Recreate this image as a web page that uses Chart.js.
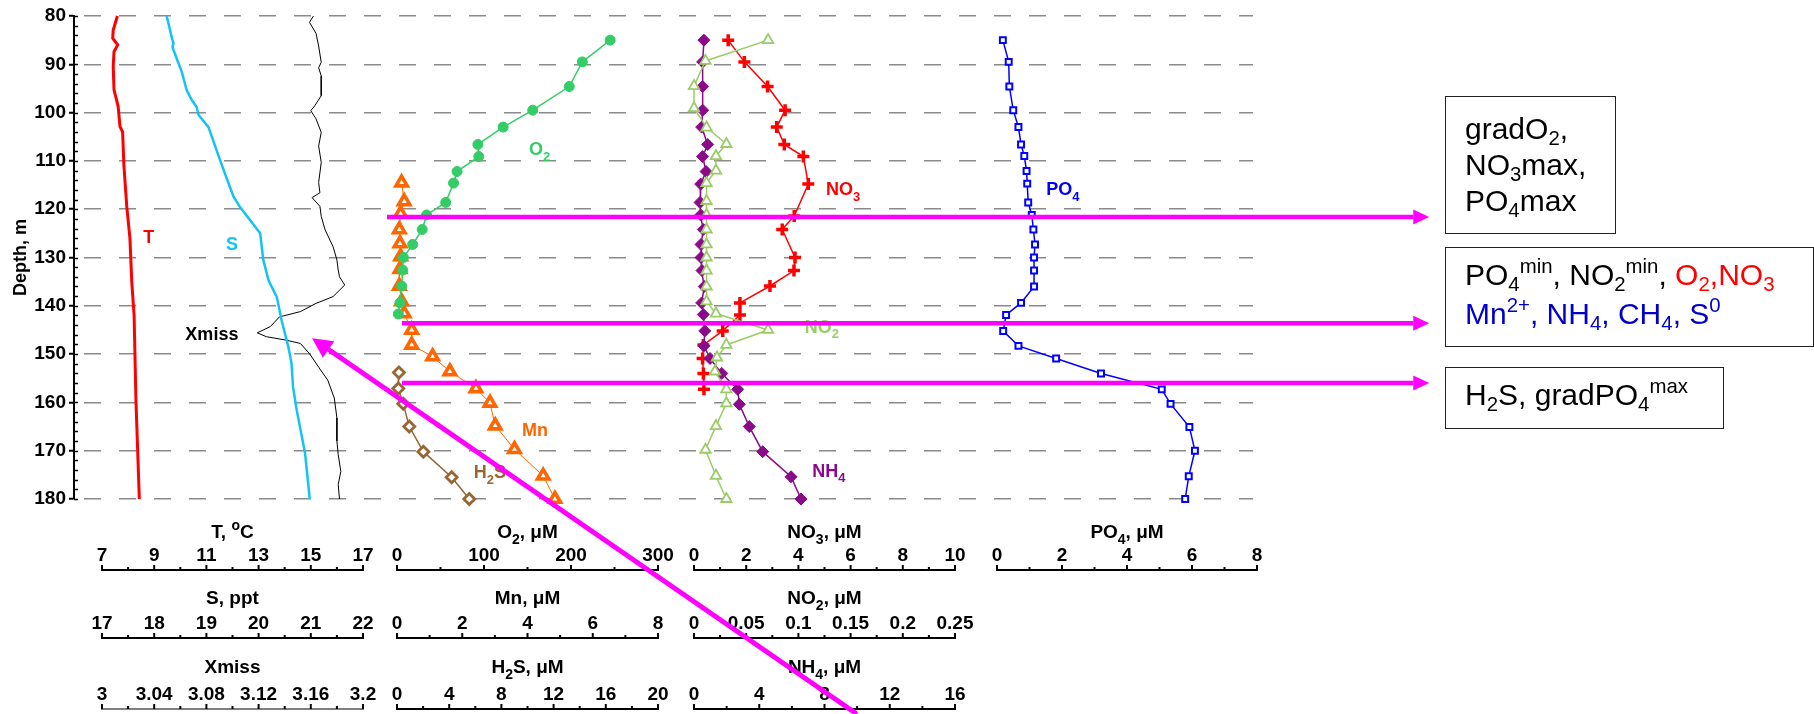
<!DOCTYPE html>
<html>
<head>
<meta charset="utf-8">
<script src="https://cdn.jsdelivr.net/npm/chart.js@4.4.1/dist/chart.umd.min.js"></script>
<style>
  body { margin: 0; background: #fff; }
  #wrap { position: relative; width: 1814px; height: 714px; overflow: hidden; font-family: "Liberation Sans", Arial, sans-serif; }
  #profile { position: absolute; left: 0; top: 0; }
  .note { position: absolute; box-sizing: border-box; border: 1.5px solid #222; font-size: 30px; line-height: 36px; color: #000; padding-left: 19px; white-space: nowrap; }
  .note sub, .note sup { font-size: 0.68em; line-height: 0; }
  .note sub { vertical-align: -0.28em; }
  .note sup { vertical-align: 0.6em; }
</style>
</head>
<body>
<div id="wrap">
  <canvas id="profile" width="1814" height="714"></canvas>
  <div class="note" style="left:1445px;top:96px;width:171px;height:138px;padding-top:14px">gradO<sub>2</sub>,<br>NO<sub>3</sub>max,<br>PO<sub>4</sub>max</div>
  <div class="note" style="left:1445px;top:247px;width:369px;height:100px;padding-top:7px;line-height:39px">PO<sub>4</sub><sup>min</sup>, NO<sub>2</sub><sup>min</sup>, <span style="color:#ff0000">O<sub>2</sub>,NO<sub>3</sub></span><br><span style="color:#0000cc">Mn<sup>2+</sup>, NH<sub>4</sub>, CH<sub>4</sub>, S<sup>0</sup></span></div>
  <div class="note" style="left:1445px;top:367px;width:279px;height:62px;padding-top:9px">H<sub>2</sub>S, gradPO<sub>4</sub><sup>max</sup></div>
</div>
<script>
const FONT = '"Liberation Sans", Arial, sans-serif';

// depth, m
const depthTicks = [80, 90, 100, 110, 120, 130, 140, 150, 160, 170, 180];

// CTD profiles
const tDepth = [80, 82.9, 84.6, 86, 87.4, 90.5, 95.3, 97.4, 98.8, 102.9, 104, 111, 119.5, 126, 135, 142, 159.5, 180];
const tVal = [7.59, 7.43, 7.41, 7.6, 7.46, 7.43, 7.46, 7.56, 7.62, 7.69, 7.79, 7.84, 7.95, 8.07, 8.14, 8.23, 8.3, 8.43];

const sDepth = [80, 84.6, 85.7, 86.4, 88.8, 91.6, 95.3, 97.4, 98.8, 100.5, 103, 109.8, 115.4, 117.4, 119.5, 125, 130.5, 134.7, 138.2, 143, 148.5, 151.9, 156.8, 161.6, 170.5, 180];
const sVal = [18.24, 18.34, 18.37, 18.35, 18.43, 18.53, 18.62, 18.72, 18.81, 18.85, 19.04, 19.26, 19.45, 19.52, 19.64, 20.03, 20.09, 20.19, 20.35, 20.44, 20.57, 20.63, 20.66, 20.73, 20.89, 20.98];

const xmDepth = [80, 81.3, 83.6, 86.2, 89.6, 90.7, 92.4, 96.5, 98.6, 99.6, 101.3, 104.1, 106.9, 110.3, 114.5, 116.6, 117.6, 119.4, 121.5, 124.3, 127.7, 130.5, 132.6, 134, 135.7, 138.1, 139.5, 141.2, 142.3, 144.3, 145.6, 146.4, 147.1, 147.8, 149.9, 152.7, 155.4, 159.1, 163.2, 168, 170.8, 174.3, 177, 180];
const xmVal = [3.162, 3.159, 3.164, 3.166, 3.168, 3.166, 3.168, 3.168, 3.163, 3.160, 3.164, 3.168, 3.166, 3.168, 3.166, 3.167, 3.161, 3.167, 3.168, 3.171, 3.177, 3.180, 3.181, 3.182, 3.186, 3.177, 3.164, 3.152, 3.136, 3.129, 3.119, 3.126, 3.141, 3.152, 3.159, 3.166, 3.173, 3.178, 3.180, 3.180, 3.181, 3.183, 3.181, 3.182];

// bottle samples
const o2Depth = [85, 89.5, 94.6, 99.5, 103, 106.6, 109.1, 112.2, 114.6, 118.6, 121.2, 124.2, 127.3, 130, 132.6, 135.9, 139.4, 141.7];
const o2Val = [245, 213, 198, 156, 122, 93, 94, 69, 65, 56, 34, 29, 18, 7.3, 6.5, 5.4, 3.4, 1.5];

const mnDepth = [114.5, 118.4, 120.9, 124.2, 127.1, 129.8, 132.4, 135.9, 139.1, 141.6, 145, 148.1, 150.5, 153.6, 157.1, 160.1, 164.8, 169.7, 175.2, 180];
const mnVal = [0.14, 0.22, 0.11, 0.07, 0.09, 0.11, 0.09, 0.07, 0.14, 0.22, 0.45, 0.45, 1.09, 1.62, 2.42, 2.85, 3.01, 3.6, 4.48, 4.84];

const h2sDepth = [153.8, 157.1, 160.3, 165, 170.2, 175.5, 180];
const h2sVal = [0.15, 0.1, 0.48, 0.94, 2.02, 4.19, 5.54];

const no3Depth = [85, 89.5, 94.6, 99.5, 103, 106.6, 109.1, 114.8, 121.4, 124.2, 130, 132.7, 135.9, 139.4, 141.9, 145.2, 148.1, 150.9, 154, 157.3];
const no3Val = [1.31, 1.93, 2.82, 3.49, 3.17, 3.46, 4.19, 4.38, 3.84, 3.38, 3.87, 3.83, 2.91, 1.76, 1.76, 1.10, 0.36, 0.33, 0.36, 0.38];

const no2Depth = [85, 89.3, 94.5, 99.1, 103.1, 106.5, 109, 112, 114.6, 118.3, 121.2, 124.2, 127.3, 130, 132.7, 136, 139.1, 141.6, 145, 148.1, 150.7, 153.6, 157.3, 160.2, 164.9, 169.8, 175.2, 180];
const no2Val = [0.071, 0.011, 0, 0, 0.012, 0.031, 0.021, 0.021, 0.012, 0.012, 0.012, 0.012, 0.012, 0.012, 0.012, 0.012, 0.012, 0.021, 0.071, 0.031, 0.022, 0.020, 0.031, 0.031, 0.021, 0.011, 0.021, 0.031];

const nh4Depth = [85, 89.5, 94.6, 99.5, 103, 106.6, 109.1, 112.2, 114.8, 118.6, 121.2, 124.2, 127.3, 130, 132.7, 136, 139.4, 141.8, 145.2, 148.3, 150.9, 154, 157.3, 160.4, 165, 170.2, 175.4, 180];
const nh4Val = [0.61, 0.53, 0.53, 0.53, 0.47, 0.84, 0.53, 0.74, 0.41, 0.37, 0.41, 0.57, 0.43, 0.43, 0.49, 0.63, 0.47, 0.57, 0.66, 0.61, 0.98, 1.70, 2.68, 2.78, 3.39, 4.21, 5.95, 6.56];

const po4Depth = [85, 89.5, 94.6, 99.5, 103, 106.6, 109, 112.1, 114.7, 118.6, 121.2, 124.2, 127.3, 130, 132.7, 136, 139.4, 141.9, 145.2, 148.3, 150.9, 154, 157.3, 160.3, 165.1, 170, 175.3, 180];
const po4Val = [0.18, 0.36, 0.38, 0.5, 0.66, 0.74, 0.84, 0.91, 0.93, 0.96, 1.07, 1.12, 1.17, 1.14, 1.14, 1.14, 0.74, 0.28, 0.19, 0.66, 1.82, 3.2, 5.07, 5.34, 5.92, 6.09, 5.9, 5.79];

// bottom axis tick labels
const tTicks = [7, 9, 11, 13, 15, 17];
const sTicks = [17, 18, 19, 20, 21, 22];
const xmTicks = [3, 3.04, 3.08, 3.12, 3.16, 3.2];
const o2Ticks = [0, 100, 200, 300];
const mnTicks = [0, 2, 4, 6, 8];
const h2sTicks = [0, 4, 8, 12, 16, 20];
const no3Ticks = [0, 2, 4, 6, 8, 10];
const no2Ticks = [0, 0.05, 0.1, 0.15, 0.2, 0.25];
const nh4Ticks = [0, 4, 8, 12, 16];
const po4Ticks = [0, 2, 4, 6, 8];

// layout: plot area and the pixel span of each panel
const AREA = {left: 74, top: 16, right: 1253, bottom: 499};
const panelPx = [[102, 363], [397, 658], [694, 955], [997, 1257]];
const rowOffset = [71, 139, 210];
const titleLift = [32, 34, 36];

const axes = [
  {id: 'xT', panel: 0, row: 0, ticks: tTicks, title: 'T, ^{o}C'},
  {id: 'xS', panel: 0, row: 1, ticks: sTicks, title: 'S, ppt'},
  {id: 'xXm', panel: 0, row: 2, ticks: xmTicks, title: 'Xmiss', thin: true},
  {id: 'xO2', panel: 1, row: 0, ticks: o2Ticks, title: 'O_{2}, μM'},
  {id: 'xMn', panel: 1, row: 1, ticks: mnTicks, title: 'Mn, μM'},
  {id: 'xH2S', panel: 1, row: 2, ticks: h2sTicks, title: 'H_{2}S, μM'},
  {id: 'xNO3', panel: 2, row: 0, ticks: no3Ticks, title: 'NO_{3}, μM'},
  {id: 'xNO2', panel: 2, row: 1, ticks: no2Ticks, title: 'NO_{2}, μM'},
  {id: 'xNH4', panel: 2, row: 2, ticks: nh4Ticks, title: 'NH_{4}, μM'},
  {id: 'xPO4', panel: 3, row: 0, ticks: po4Ticks, title: 'PO_{4}, μM'}
];

// in-plot labels: [text, colour, axis, value, depth]
const seriesLabels = [
  ['T', '#ff0000', 'xT', 8.79, 127.0],
  ['S', '#14c3f5', 'xS', 19.49, 128.4],
  ['Xmiss', '#000000', 'xT', 11.21, 147.1],
  ['O_{2}', '#33cc66', 'xO2', 164, 108.8],
  ['Mn', '#ff6600', 'xMn', 4.23, 167.0],
  ['H_{2}S', '#996633', 'xH2S', 7.12, 175.7],
  ['NO_{3}', '#ff0000', 'xNO3', 5.71, 117.1],
  ['NO_{2}', '#99cc66', 'xNO3', 4.9, 145.6],
  ['NH_{4}', '#8a0a8a', 'xNO3', 5.17, 175.4],
  ['PO_{4}', '#0000ff', 'xPO4', 2.03, 117.1]
];

// magenta markers: horizontal arrows at depths, and a slanted one pointing at the Xmiss minimum
const arrowDepths = [121.6, 143.6, 156.0];
const arrowStartO2 = [-11.5, 5.7, 5.7];
const arrowEndPO4 = 13.3;
const slantTip = {axis: 'xT', x: 15.05, depth: 146.7};
const slantTail = {axis: 'xNO3', x: 6.24, depth: 224.5};

function spanFor(ticks, px) {
  const v0 = ticks[0], v1 = ticks[ticks.length - 1];
  const k = (v1 - v0) / (px[1] - px[0]);
  const min = v0 - (px[0] - AREA.left) * k;
  return {min, max: min + (AREA.right - AREA.left) * k};
}

function richParts(str) {
  const out = [];
  const re = /_\{([^}]*)\}|\^\{([^}]*)\}|([^_^]+)/g;
  let m;
  while ((m = re.exec(str))) {
    if (m[1] !== undefined) out.push({t: m[1], mode: 'sub'});
    else if (m[2] !== undefined) out.push({t: m[2], mode: 'sup'});
    else out.push({t: m[3], mode: ''});
  }
  return out;
}

function drawRich(ctx, str, x, y, size, color) {
  const parts = richParts(str);
  const fontFor = p => 'bold ' + (p.mode ? Math.round(size * 0.74) : size) + 'px ' + FONT;
  let w = 0;
  parts.forEach(p => { ctx.font = fontFor(p); p.w = ctx.measureText(p.t).width; w += p.w; });
  let cx = x - w / 2;
  ctx.fillStyle = color;
  ctx.textAlign = 'left';
  ctx.textBaseline = 'alphabetic';
  parts.forEach(p => {
    ctx.font = fontFor(p);
    const dy = p.mode === 'sub' ? size * 0.3 : (p.mode === 'sup' ? -size * 0.42 : 0);
    ctx.fillText(p.t, cx, y + dy);
    cx += p.w;
  });
}

function arrow(ctx, x0, y0, x1, y1, width, headLen, headHalf) {
  const a = Math.atan2(y1 - y0, x1 - x0);
  const bx = x1 - headLen * Math.cos(a), by = y1 - headLen * Math.sin(a);
  ctx.strokeStyle = '#ff00ff';
  ctx.fillStyle = '#ff00ff';
  ctx.lineWidth = width;
  ctx.beginPath(); ctx.moveTo(x0, y0); ctx.lineTo(bx, by); ctx.stroke();
  ctx.beginPath();
  ctx.moveTo(x1, y1);
  ctx.lineTo(bx + headHalf * Math.sin(a), by - headHalf * Math.cos(a));
  ctx.lineTo(bx - headHalf * Math.sin(a), by + headHalf * Math.cos(a));
  ctx.closePath(); ctx.fill();
}

const decor = {
  id: 'decor',
  afterDatasetsDraw(chart) {
    const ctx = chart.ctx, ys = chart.scales.y;
    ctx.save();
    seriesLabels.forEach(l => {
      drawRich(ctx, l[0], chart.scales[l[2]].getPixelForValue(l[3]), ys.getPixelForValue(l[4]), 18, l[1]);
    });
    ctx.restore();
  },
  afterDraw(chart) {
    const ctx = chart.ctx, ys = chart.scales.y, area = chart.chartArea;
    ctx.save();
    // minor depth ticks, inside the axis
    ctx.strokeStyle = '#000';
    ctx.lineWidth = 1.5;
    for (let d = depthTicks[0]; d <= depthTicks[depthTicks.length - 1]; d += 2) {
      const py = Math.round(ys.getPixelForValue(d)) + 0.5;
      ctx.beginPath(); ctx.moveTo(area.left, py); ctx.lineTo(area.left + 4, py); ctx.stroke();
    }
    // stacked value axes under the panels
    axes.forEach(a => {
      const s = chart.scales[a.id];
      const y = area.bottom + rowOffset[a.row];
      const first = a.ticks[0], last = a.ticks[a.ticks.length - 1];
      const x0 = s.getPixelForValue(first), x1 = s.getPixelForValue(last);
      ctx.strokeStyle = '#000';
      ctx.lineWidth = a.thin ? 1.2 : 2;
      ctx.beginPath(); ctx.moveTo(x0 - 1, y); ctx.lineTo(x1 + 1, y); ctx.stroke();
      ctx.lineWidth = 2;
      a.ticks.forEach((v, i) => {
        const px = s.getPixelForValue(v);
        ctx.beginPath(); ctx.moveTo(px, y); ctx.lineTo(px, y - 5); ctx.stroke();
        if (i > 0) {
          const mx = s.getPixelForValue((v + a.ticks[i - 1]) / 2);
          ctx.beginPath(); ctx.moveTo(mx, y); ctx.lineTo(mx, y - 3); ctx.stroke();
        }
        ctx.font = 'bold 19px ' + FONT;
        ctx.fillStyle = '#000';
        ctx.textAlign = 'center';
        ctx.textBaseline = 'alphabetic';
        ctx.fillText(String(parseFloat(v.toFixed(4))), px, y - 9);
      });
      drawRich(ctx, a.title, (x0 + x1) / 2, y - titleLift[a.row], 19, '#000');
    });
    // arrows on top
    arrowDepths.forEach((d, i) => {
      const py = ys.getPixelForValue(d);
      arrow(ctx, chart.scales.xO2.getPixelForValue(arrowStartO2[i]), py,
        chart.scales.xPO4.getPixelForValue(arrowEndPO4), py, 4.5, 16, 7.5);
    });
    arrow(ctx, chart.scales[slantTail.axis].getPixelForValue(slantTail.x), ys.getPixelForValue(slantTail.depth),
      chart.scales[slantTip.axis].getPixelForValue(slantTip.x), ys.getPixelForValue(slantTip.depth), 5, 20, 10);
    ctx.restore();
  }
};

function profile(label, axis, depths, values, style) {
  return Object.assign({
    label: label,
    xAxisID: axis,
    yAxisID: 'y',
    data: depths.map((d, i) => ({x: values[i], y: d})),
    tension: 0,
    clip: false,
    pointRadius: 0,
    pointHoverRadius: 0
  }, style);
}

const datasets = [
  profile('T', 'xT', tDepth, tVal, {borderColor: '#ff0000', borderWidth: 3}),
  profile('S', 'xS', sDepth, sVal, {borderColor: '#14c3f5', borderWidth: 2.5}),
  profile('Xmiss', 'xXm', xmDepth, xmVal, {borderColor: '#000000', borderWidth: 1}),
  profile('O2', 'xO2', o2Depth, o2Val, {borderColor: '#33cc66', borderWidth: 1.5, pointStyle: 'circle', pointRadius: 5, pointBackgroundColor: '#33cc66', pointBorderColor: '#33cc66', pointBorderWidth: 1}),
  profile('Mn', 'xMn', mnDepth, mnVal, {borderColor: '#ff6600', borderWidth: 1, pointStyle: 'triangle', pointRadius: 6.5, pointBackgroundColor: '#ffffff', pointBorderColor: '#ff6600', pointBorderWidth: 3.6}),
  profile('H2S', 'xH2S', h2sDepth, h2sVal, {borderColor: '#996633', borderWidth: 1.5, pointStyle: 'rectRot', pointRadius: 5.5, pointBackgroundColor: '#ffffff', pointBorderColor: '#996633', pointBorderWidth: 2.8}),
  profile('NO2', 'xNO2', no2Depth, no2Val, {borderColor: '#99cc66', borderWidth: 1.5, pointStyle: 'triangle', pointRadius: 6, pointBackgroundColor: '#ffffff', pointBorderColor: '#99cc66', pointBorderWidth: 1.8}),
  profile('NH4', 'xNH4', nh4Depth, nh4Val, {borderColor: '#8a0a8a', borderWidth: 1.5, pointStyle: 'rectRot', pointRadius: 6, pointBackgroundColor: '#8a0a8a', pointBorderColor: '#8a0a8a', pointBorderWidth: 1}),
  profile('NO3', 'xNO3', no3Depth, no3Val, {borderColor: '#ff0000', borderWidth: 1.5, pointStyle: 'cross', pointRadius: 6, pointBackgroundColor: '#ff0000', pointBorderColor: '#ff0000', pointBorderWidth: 3.5}),
  profile('PO4', 'xPO4', po4Depth, po4Val, {borderColor: '#0000ff', borderWidth: 1.5, pointStyle: 'rect', pointRadius: 4.2, pointBackgroundColor: '#ffffff', pointBorderColor: '#0000ff', pointBorderWidth: 2})
];

const scales = {
  y: {
    type: 'linear',
    axis: 'y',
    position: 'left',
    reverse: true,
    min: depthTicks[0],
    max: depthTicks[depthTicks.length - 1],
    afterFit: s => { s.width = AREA.left; },
    afterBuildTicks: s => { s.ticks = depthTicks.map(v => ({value: v})); },
    ticks: {font: {family: FONT, size: 19, weight: 'bold'}, color: '#000', padding: 3},
    grid: {color: '#8a8a8a', lineWidth: 1.5, tickLength: 5, tickColor: '#000', tickWidth: 2, tickBorderDash: []},
    border: {display: true, color: '#000', width: 2, dash: [17, 18], dashOffset: 26},
    title: {display: true, text: 'Depth, m', color: '#000', font: {family: FONT, size: 18, weight: 'bold'}, padding: {top: 10, bottom: 0}}
  }
};
axes.forEach(a => {
  scales[a.id] = Object.assign({type: 'linear', axis: 'x', position: 'bottom', display: false}, spanFor(a.ticks, panelPx[a.panel]));
});

new Chart(document.getElementById('profile'), {
  type: 'line',
  data: {datasets: datasets},
  options: {
    indexAxis: 'y',
    responsive: false,
    animation: false,
    devicePixelRatio: 1,
    events: [],
    layout: {padding: {left: 0, top: AREA.top, right: 1814 - AREA.right, bottom: 714 - AREA.bottom}},
    scales: scales,
    plugins: {legend: {display: false}, tooltip: {enabled: false}}
  },
  plugins: [decor]
});
</script>
</body>
</html>
